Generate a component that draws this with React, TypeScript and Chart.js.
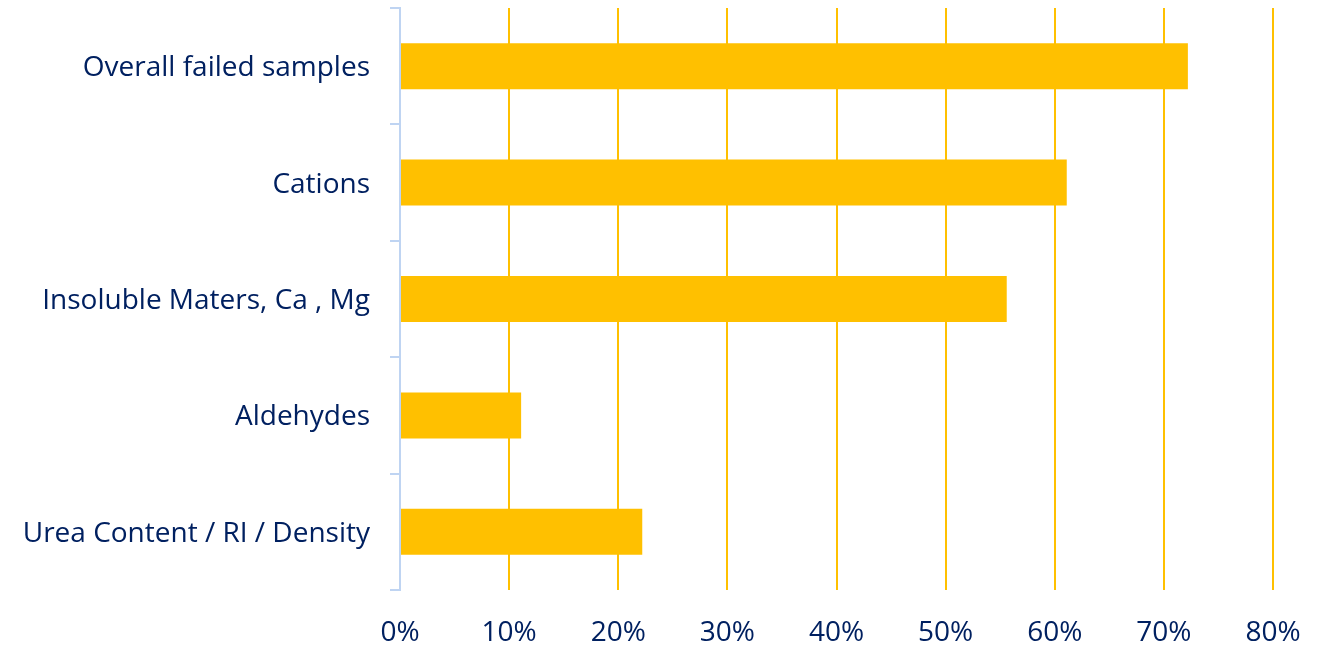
import React, { useEffect, useRef } from "react";
import { Chart, registerables } from "chart.js";

Chart.register(...registerables);

const categories = [
  "Overall failed samples",
  "Cations",
  "Insoluble Maters, Ca , Mg",
  "Aldehydes",
  "Urea Content / RI / Density",
];
const failedShare = [0.722, 0.611, 0.556, 0.111, 0.222];
const xMin = 0;
const xMax = 0.8;
const xStep = 0.1;

const TEXT = "#002060";
const BAR = "#FFC000";
const AXIS = "#BFD4F2";
const FONT = "'Open Sans', 'Noto Sans', sans-serif";

export default function App() {
  const ref = useRef<HTMLCanvasElement | null>(null);

  useEffect(() => {
    if (!ref.current) return;
    const chart = new Chart(ref.current, {
      type: "bar",
      data: {
        labels: categories,
        datasets: [
          {
            data: failedShare,
            backgroundColor: BAR,
            borderWidth: 0,
            categoryPercentage: 1,
            barPercentage: 0.395,
          },
        ],
      },
      options: {
        indexAxis: "y",
        animation: false,
        responsive: false,
        maintainAspectRatio: false,
        layout: { padding: { top: 8, right: 46, left: 0, bottom: 0 } },
        plugins: { legend: { display: false }, tooltip: { enabled: false } },
        scales: {
          x: {
            min: xMin,
            max: xMax,
            afterFit: (s: any) => {
              s.height = 56;
              s.paddingLeft = 0;
              s.paddingRight = 0;
            },
            ticks: {
              stepSize: xStep,
              padding: 26,
              color: TEXT,
              font: { family: FONT, size: 28 },
              callback: (v: any) => Math.round(Number(v) * 100) + "%",
            },
            grid: {
              drawTicks: false,
              lineWidth: 2,
              color: (ctx: any) => (ctx.tick && ctx.tick.value === 0 ? "rgba(0,0,0,0)" : BAR),
            },
            border: { display: false },
          },
          y: {
            afterFit: (s: any) => {
              s.width = 400;
              s.paddingTop = 0;
              s.paddingBottom = 0;
            },
            ticks: {
              padding: 20,
              labelOffset: 2,
              color: TEXT,
              font: { family: FONT, size: 28 },
            },
            grid: {
              offset: true,
              drawOnChartArea: false,
              drawTicks: true,
              tickLength: 10,
              color: AXIS,
              lineWidth: 2,
            },
            border: { display: true, color: AXIS, width: 2 },
          },
        },
      },
    });
    return () => chart.destroy();
  }, []);

  return (
    <div style={{ position: "fixed", left: 0, top: 0, width: 1319, height: 646, background: "#fff" }}>
      <canvas ref={ref} width={1319} height={646} style={{ display: "block" }} />
    </div>
  );
}
